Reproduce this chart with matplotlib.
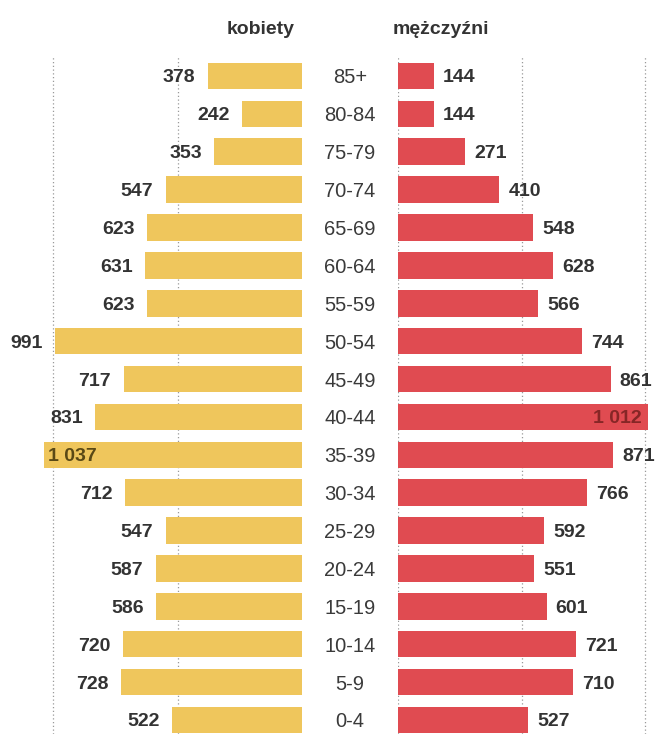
#!/usr/bin/env python3
# Population pyramid: kobiety / mężczyźni by age group

import matplotlib
matplotlib.use('Agg')
import matplotlib.pyplot as plt

plt.rcParams['font.family'] = ['Liberation Sans', 'DejaVu Sans']

age_groups = ['0-4', '5-9', '10-14', '15-19', '20-24', '25-29', '30-34', '35-39', '40-44',
              '45-49', '50-54', '55-59', '60-64', '65-69', '70-74', '75-79', '80-84', '85+']
women = [522, 728, 720, 586, 587, 547, 712, 1037, 831, 717, 991, 623, 631, 623, 547, 353, 242, 378]
men = [527, 710, 721, 601, 551, 592, 766, 871, 1012, 861, 744, 566, 628, 548, 410, 271, 144, 144]

yellow = '#efc65c'
red = '#e04b51'
text_col = '#333333'
fs = 14

W, H = 655, 734
fig = plt.figure(figsize=(W / 100, H / 100), dpi=100)

top_px, bottom_px = 57, 734
ax_l = fig.add_axes([0, 1 - bottom_px / H, 302 / W, (bottom_px - top_px) / H])
ax_r = fig.add_axes([398 / W, 1 - bottom_px / H, 257 / W, (bottom_px - top_px) / H])

y = list(range(len(age_groups)))
ax_l.barh(y, women, height=0.7, color=yellow, zorder=2)
ax_r.barh(y, men, height=0.7, color=red, zorder=2)

ax_l.set_xlim(1214, 0)
ax_r.set_xlim(0, 1040)
for ax in (ax_l, ax_r):
    ax.set_ylim(-0.37, 17.5)
    for g in (500, 1000):
        ax.axvline(g, color='#999999', linestyle=(0, (1, 2)), linewidth=0.9, zorder=1)
    ax.axis('off')
ax_r.axvline(0, color='#999999', linestyle=(0, (1, 2)), linewidth=0.9, zorder=1)

# value labels
for yi, v in zip(y, women):
    lab = f'{v:,}'.replace(',', ' ')
    if v > 1000:
        ax_l.annotate(lab, (v, yi), xytext=(2.5, 0), textcoords='offset points',
                      ha='left', va='center_baseline', fontsize=fs, fontweight='bold',
                      color='#5a4915', zorder=3)
    else:
        ax_l.annotate(lab, (v, yi), xytext=(-9, 0), textcoords='offset points',
                      ha='right', va='center_baseline', fontsize=fs, fontweight='bold',
                      color=text_col, zorder=3)
for yi, v in zip(y, men):
    lab = f'{v:,}'.replace(',', ' ')
    if v > 1000:
        ax_r.annotate(lab, (v, yi), xytext=(-5, 0), textcoords='offset points',
                      ha='right', va='center_baseline', fontsize=fs, fontweight='bold',
                      color='#862626', zorder=3)
    else:
        ax_r.annotate(lab, (v, yi), xytext=(6.5, 0), textcoords='offset points',
                      ha='left', va='center_baseline', fontsize=fs, fontweight='bold',
                      color=text_col, zorder=3)

# age group labels in the middle
for yi, a in zip(y, age_groups):
    ax_r.annotate(a, (0, yi), xytext=(-34.5, 0), textcoords='offset points', annotation_clip=False,
                  ha='center', va='center_baseline', fontsize=14.5, color='#3a3a3a')

fig.text(295 / W, 1 - 30 / H, 'kobiety', ha='right', va='center', fontsize=fs,
         fontweight='bold', color=text_col)
fig.text(393 / W, 1 - 30 / H, 'mężczyźni', ha='left', va='center', fontsize=fs,
         fontweight='bold', color=text_col)

fig.savefig('out.png', dpi=100, facecolor='white')
